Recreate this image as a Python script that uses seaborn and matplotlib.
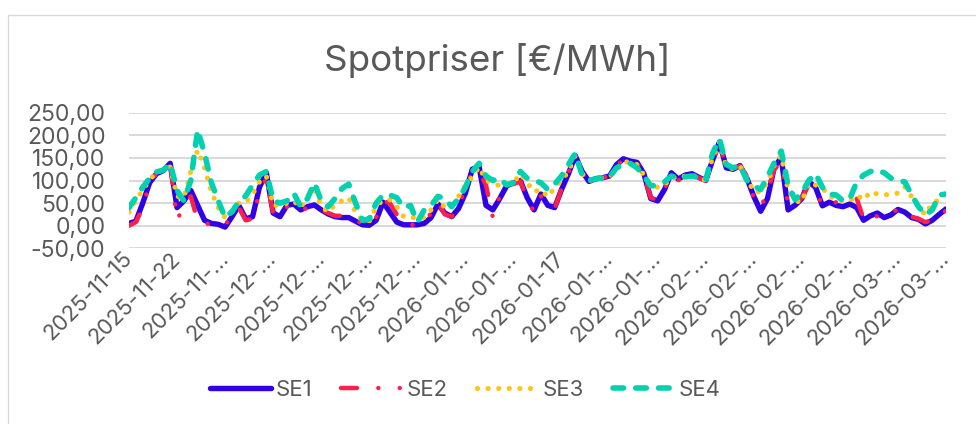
import matplotlib
matplotlib.use('Agg')
import matplotlib.pyplot as plt
import seaborn as sns
import pandas as pd
from matplotlib.patches import Rectangle

# daglige spotpriser, 2025-11-15 .. 2026-03-14
dates = pd.date_range('2025-11-15', '2026-03-14', freq='D')

se1 = [5, 10, 50, 95, 115, 122, 138, 40, 55, 78, 45, 12, 5, 3, -3, 20, 45, 15, 20, 85,
       117, 28, 20, 45, 48, 35, 42, 46, 35, 26, 20, 18, 18, 10, 2, 1, 12, 52, 30, 8,
       2, 2, 2, 5, 18, 48, 28, 20, 38, 72, 125, 130, 45, 35, 60, 88, 95, 100, 62, 35,
       70, 45, 40, 80, 115, 155, 120, 98, 104, 106, 110, 135, 148, 143, 140, 115, 60, 55, 80, 117,
       103, 112, 115, 107, 100, 145, 185, 128, 125, 133, 105, 65, 32, 60, 130, 150, 35, 45, 60, 97,
       85, 44, 52, 45, 42, 48, 40, 12, 22, 28, 18, 24, 36, 30, 18, 14, 4, 12, 25, 37]
se2 = [0, 8, 40, 95, 115, 122, 135, 12, 45, 65, 10, 5, 3, 2, 0, 25, 40, 12, 15, 75,
       105, 28, 20, 42, 45, 32, 40, 44, 36, 28, 22, 22, 22, 14, 3, 2, 18, 55, 50, 25,
       3, 2, 2, 8, 28, 52, 25, 20, 45, 82, 118, 120, 90, 18, 65, 85, 92, 98, 60, 30,
       65, 50, 38, 82, 118, 150, 118, 98, 104, 106, 110, 132, 146, 143, 138, 112, 62, 56, 82, 112,
       100, 110, 114, 106, 100, 140, 180, 130, 126, 132, 110, 62, 40, 75, 125, 140, 45, 48, 62, 90,
       85, 42, 48, 52, 55, 58, 60, 15, 8, 22, 18, 24, 38, 22, 20, 15, 8, 12, 15, 35]
se3 = [30, 55, 80, 100, 120, 122, 130, 65, 62, 120, 167, 128, 75, 40, 18, 30, 50, 51, 70, 97,
       110, 45, 45, 50, 55, 40, 65, 80, 45, 30, 46, 55, 62, 30, 12, 10, 42, 57, 57, 42,
       20, 20, 15, 18, 35, 58, 40, 46, 65, 90, 108, 130, 100, 95, 88, 92, 95, 115, 95, 75,
       80, 64, 84, 100, 120, 155, 115, 100, 104, 106, 108, 125, 140, 142, 135, 112, 90, 85, 90, 108,
       104, 110, 112, 106, 100, 150, 185, 130, 126, 132, 105, 75, 75, 95, 135, 155, 80, 55, 52, 95,
       90, 84, 64, 62, 55, 55, 68, 57, 75, 70, 68, 70, 72, 86, 64, 42, 24, 50, 57, 60]
se4 = [40, 62, 85, 105, 119, 123, 138, 78, 55, 100, 212, 160, 95, 55, 18, 31, 53, 66, 90, 112,
       120, 55, 50, 55, 72, 42, 60, 95, 55, 42, 60, 82, 92, 50, 12, 15, 50, 68, 68, 62,
       40, 45, 8, 35, 45, 65, 60, 42, 60, 85, 120, 138, 110, 100, 105, 90, 95, 120, 105, 100,
       95, 80, 92, 110, 135, 160, 112, 100, 104, 106, 108, 128, 136, 138, 128, 110, 88, 90, 97, 110,
       105, 108, 110, 106, 100, 160, 192, 135, 128, 134, 100, 88, 80, 108, 140, 165, 90, 58, 72, 100,
       115, 85, 70, 68, 55, 60, 97, 112, 120, 123, 117, 105, 100, 97, 68, 42, 24, 35, 68, 70]

series_names = ['SE1', 'SE2', 'SE3', 'SE4']
tick_labels = ['2025-11-15', '2025-11-22', '2025-11-…', '2025-12-…', '2025-12-…', '2025-12-…',
               '2025-12-…', '2026-01-…', '2026-01-…', '2026-01-17', '2026-01-…', '2026-01-…',
               '2026-02-…', '2026-02-…', '2026-02-…', '2026-02-…', '2026-03-…', '2026-03-…']

sns.set_theme(style='white')
plt.rcParams['font.family'] = ['Inter', 'DejaVu Sans']
grey = '#595959'

W, H = 976, 424
fig = plt.figure(figsize=(W / 100, H / 100), dpi=100)
ax = fig.add_axes([129 / W, 1 - 248.3 / H, (946 - 129) / W, (248.3 - 112.7) / H])

styles = {
    'SE1': dict(color='#3000e6', lw=3.9, ls='-'),
    'SE2': dict(color='#ff1f4b', lw=3.2, ls=(0, (3.6, 4.8, 0.01, 4.8, 0.01, 4.8))),
    'SE3': dict(color='#ffc414', lw=3.7, ls=(0, (0.01, 2.05))),
    'SE4': dict(color='#00d2b0', lw=4.0, ls=(0, (1.9, 2.2))),
}

for z, (name, vals) in enumerate(zip(series_names, [se1, se2, se3, se4])):
    st = styles[name]
    sns.lineplot(x=dates, y=vals, ax=ax, color=st['color'], linewidth=st['lw'],
                 label=name, legend=False, zorder=2 + z)
    line = ax.get_lines()[-1]
    line.set_linestyle(st['ls'])
    line.set_dash_capstyle('round')
    line.set_solid_capstyle('round')
    line.set_solid_joinstyle('round')
    line.set_dash_joinstyle('round')

ax.set_xlim(dates[0], dates[-1])
ax.set_ylim(-50, 250)
ax.set_yticks(range(-50, 251, 50))
ax.set_yticklabels([f'{v:.2f}'.replace('.', ',') for v in range(-50, 251, 50)])
ax.set_xticks(dates[::7])
ax.set_xticklabels(tick_labels, rotation=45, ha='right', va='center', rotation_mode='anchor')
ax.set_xlabel('')
ax.set_ylabel('')

ax.yaxis.grid(True, color='#d9d9d9', linewidth=1.4, zorder=0)
ax.xaxis.grid(False)
ax.set_axisbelow(True)
for s in ax.spines.values():
    s.set_visible(False)
ax.tick_params(axis='both', length=0, labelcolor=grey)
ax.tick_params(axis='x', labelsize=16, pad=5)
ax.tick_params(axis='y', labelsize=16.5, pad=17)

fig.text(497 / W, 1 - 61 / H, 'Spotpriser [€/MWh]', ha='center', va='center',
         fontsize=26.5, color=grey)

handles, labels = ax.get_legend_handles_labels()
fig.legend(handles, labels, loc='center', bbox_to_anchor=(465 / W, 1 - 390 / H),
           ncol=4, frameon=False, fontsize=16, labelcolor=grey,
           handlelength=2.75, handletextpad=0.2, columnspacing=1.3)

# chart frame
fig.add_artist(Rectangle((8 / W, -0.5), 1.5, 0.5 + (1 - 15 / H), transform=fig.transFigure,
                         fill=False, edgecolor='#d9d9d9', linewidth=1.0))

fig.savefig('out.png', dpi=100)
